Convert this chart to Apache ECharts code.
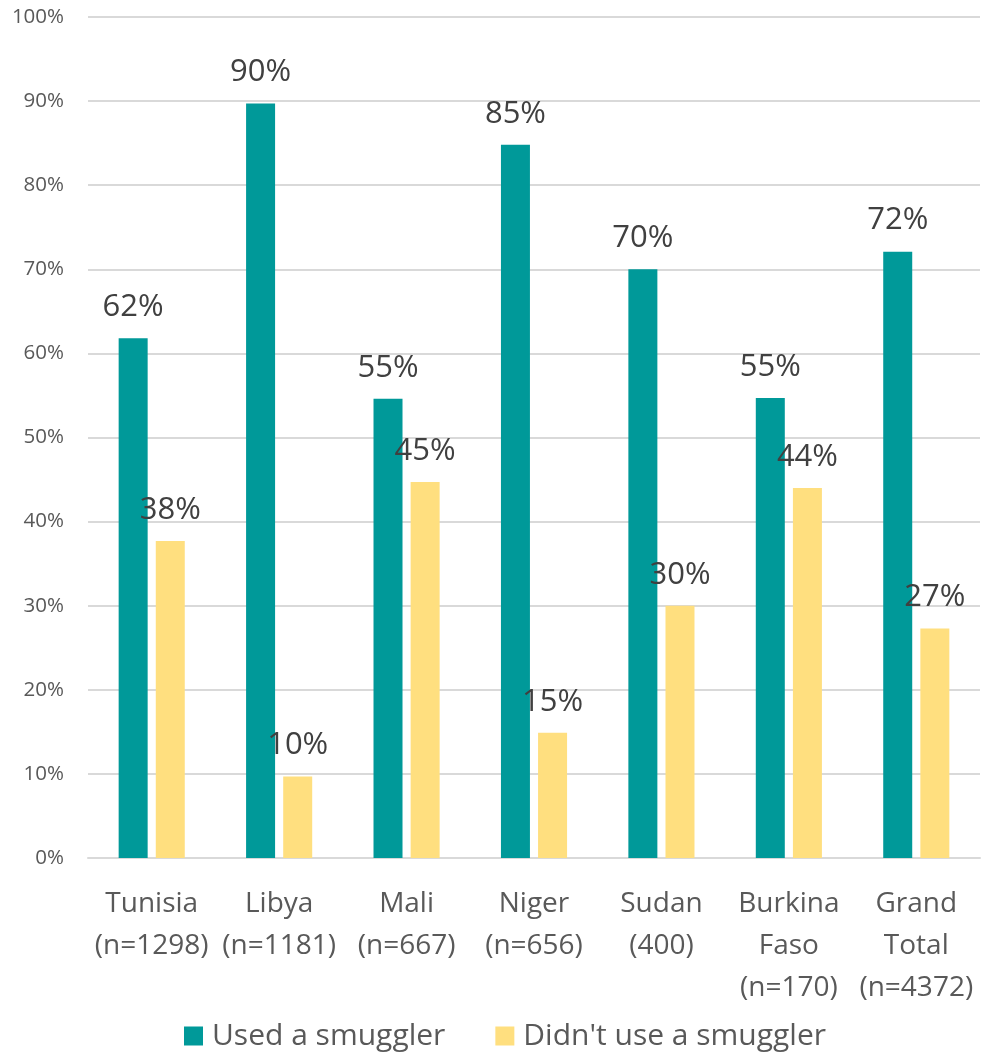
<!DOCTYPE html>
<html>
<head>
<meta charset="utf-8">
<script src="https://cdn.jsdelivr.net/npm/echarts@6/dist/echarts.min.js"></script>
<style>
html,body{margin:0;padding:0;background:#fff;}
#chart{width:985px;height:1054px;}
</style>
</head>
<body>
<div id="chart"></div>
<script>
var categories = ['Tunisia\n(n=1298)', 'Libya\n(n=1181)', 'Mali\n(n=667)', 'Niger\n(n=656)', 'Sudan\n(400)', 'Burkina\nFaso\n(n=170)', 'Grand\nTotal\n(n=4372)'];
var usedSmuggler = [61.8, 89.7, 54.6, 84.8, 70.0, 54.7, 72.1];
var didntUseSmuggler = [37.7, 9.7, 44.7, 14.9, 30.0, 44.0, 27.3];
var seriesNames = ['Used a smuggler', "Didn't use a smuggler"];

var FONT = '"Open Sans", "Noto Sans", sans-serif';
var chart = echarts.init(document.getElementById('chart'), null, {renderer: 'canvas'});
var labelCfg = {
  show: true,
  position: 'top',
  distance: 15,
  fontFamily: FONT,
  fontSize: 31,
  lineHeight: 32,
  color: '#404040',
  formatter: function (p) { return Math.round(p.value) + '%'; }
};
chart.setOption({
  animation: false,
  backgroundColor: '#ffffff',
  textStyle: {fontFamily: FONT},
  grid: {left: 88, right: 5, top: 17, bottom: 196, containLabel: false},
  legend: {
    data: seriesNames,
    top: 1014,
    left: 179,
    itemWidth: 19,
    itemHeight: 19,
    itemGap: 50,
    icon: 'rect',
    textStyle: {fontFamily: FONT, fontSize: 30, lineHeight: 34, color: '#595959', padding: [0, 0, 0, 4]}
  },
  xAxis: {
    type: 'category',
    data: categories,
    axisLine: {show: true, lineStyle: {color: '#d9d9d9', width: 2}},
    axisTick: {show: false},
    axisLabel: {
      interval: 0,
      margin: 25,
      fontFamily: FONT,
      fontSize: 28,
      lineHeight: 42,
      color: '#595959'
    }
  },
  yAxis: {
    type: 'value',
    min: 0,
    max: 100,
    interval: 10,
    axisLine: {show: false},
    axisTick: {show: false},
    splitLine: {lineStyle: {color: '#d9d9d9', width: 2}},
    axisLabel: {
      margin: 24,
      fontFamily: FONT,
      fontSize: 20.5,
      color: '#595959',
      formatter: '{value}%'
    }
  },
  series: [
    {
      name: seriesNames[0],
      type: 'bar',
      data: usedSmuggler,
      barWidth: 29,
      barGap: '28%',
      itemStyle: {color: '#009999'},
      label: labelCfg
    },
    {
      name: seriesNames[1],
      type: 'bar',
      data: didntUseSmuggler,
      barWidth: 29,
      barGap: '28%',
      itemStyle: {color: '#FFDF7F'},
      label: labelCfg
    }
  ]
});
</script>
</body>
</html>
